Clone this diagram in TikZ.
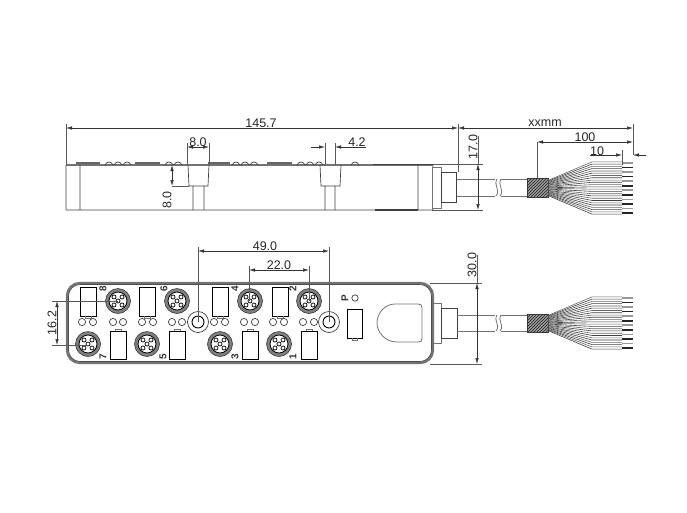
\documentclass[tikz,border=0pt]{standalone}
\usepackage{fontspec}
\setmainfont{Liberation Sans}
\usetikzlibrary{arrows.meta,patterns}

\tikzset{
  part/.style={draw=black!75, line width=0.7pt},
  soft/.style={draw=black!55, line width=0.8pt},
  band/.style={draw=black!60, line width=2.4pt},
  dimtip/.tip={Latex[length=6pt,width=3.4pt]},
  dimline/.style={draw=black!80, line width=0.5pt, dimtip-dimtip},
  extline/.style={draw=black!65, line width=0.5pt},
  dimtext/.style={inner sep=0pt, text=black!85, font=\fontsize{12.5}{14}\selectfont},
  portno/.style={inner sep=0pt, rotate=90, text=black!80, font=\fontsize{10}{10}\bfseries\selectfont},
}

% fan of wires, #1 = centre height
\newcommand{\wirefan}[1]{
  \foreach \i in {0,...,11} {
    \pgfmathsetmacro{\ya}{#1+(\i-5.5)*1.3}
    \pgfmathsetmacro{\yb}{#1+(\i-5.5)*4.55}
    \draw[black!60, line width=0.6pt] (548,\ya-0.4) -- (592,\yb-1.1) -- (622,\yb-1.1);
    \draw[black!75, line width=0.6pt] (548,\ya+0.4) -- (592,\yb+1.1) -- (622,\yb+1.1);
    \pgfmathtruncatemacro{\dark}{mod(\i,2)==0 ? 40 : 85}
    \draw[black!\dark, line width=1.6pt] (622,\yb) -- (633,\yb);
  }
}

% cable with the break and the braid, #1 = top edge, #2 = bottom edge
\newcommand{\cablerun}[2]{
  \draw[soft] (457,#1) -- (527,#1) (457,#2) -- (527,#2);
  \fill[white] (495,#1-1) rectangle (501,#2+1);
  \draw[soft] (497,#1) .. controls (493,#1+6) and (501,#2-6) .. (496,#2);
  \draw[soft] (501,#1) .. controls (497,#1+6) and (505,#2-6) .. (500,#2);
  \filldraw[draw=black!75, fill=black!40, line width=0.5pt] (527,#1-1) rectangle (548,#2+1);
  \fill[pattern=north east lines, pattern color=black!85] (527,#1-1) rectangle (548,#2+1);
}

\begin{document}
\begin{tikzpicture}[x=1pt, y=-1pt]
  \useasboundingbox (0,0) rectangle (687,512);

  % side view
  \coordinate (SL) at (66,165);
  \coordinate (SB) at (66,210);
  \coordinate (SR) at (458,172);
  \coordinate (SE) at (633,124);
  \coordinate (CT) at (432,165);
  \coordinate (CB) at (432,210);
  \draw[soft, line width=1.2pt] (SL) -- (CT);
  \draw[part] (CT) .. controls (433,165) .. (433,167)
  (SB) -- (CB) .. controls (433,210) .. (433,208)
  (SL) -- (SB)
  (80,165) -- (80,210)
  (418,165) -- (418,210);
  \draw[part, line width=1.1pt] (373,164.5) -- (432,164.5) (375,210) -- (418,210);
  \draw[soft] (432,167) -- (441,167) -- (441,208) -- (432,208) -- cycle;
  \draw[part] (441,172) -- (456,172) -- (456,202) -- (441,202) -- cycle;
  \foreach \xa/\xb in {76/100,135/160,208/230,267/292} {
    \draw[band] (\xa,163) -- (\xb,163);
  }
  \foreach \xa in {105,114,123,165,174,232,241,250,297,306,315,351} {
    \draw[part] (\xa,165) .. controls (\xa+2,161) and (\xa+6,161) .. (\xa+8,165);
  }
  % slots
  \draw[part] (188,165) -- (189,186) -- (208,186) -- (209,165)
  (193,186) -- (193,210) (204,186) -- (204,210);
  \draw[part] (320,165) -- (321,186) -- (340,186) -- (341,165)
  (325,186) -- (325,210) (335,186) -- (335,210);
  \cablerun{179}{196}
  \wirefan{188}

  % top view
  \draw[black!55, line width=2.4pt, rounded corners=13pt] (67,283) rectangle (433,363);
  \draw[black!70, line width=0.7pt, rounded corners=11.5pt] (68.5,284.5) rectangle (431.5,361.5);
  \draw[soft] (433,303) -- (441,303) -- (441,343) -- (433,343);
  \draw[part] (441,308) -- (457,308) -- (457,338) -- (441,338) -- cycle;
  \cablerun{315}{331}
  \wirefan{323}

  \foreach \x/\y in {118/301,177/301,250/301,309/301,88/344,147/344,220/344,279/344} {
    \filldraw[fill=black!50, draw=black!85, line width=0.5pt] (\x,\y) circle (12.5);
    \filldraw[fill=white, draw=black, line width=0.8pt] (\x,\y) circle (9);
    \foreach \dx/\dy in {-4/-4,4/-4,0/0,-4/4,4/4} {
      \draw[black, line width=0.7pt] (\x+\dx,\y+\dy) circle (2);
    }
  }
  \foreach \x in {80,139,212,272} {
    \draw[black, line width=0.7pt] (\x,287) rectangle (\x+16,316);
    \draw[soft] (\x+5,316) -- (\x+5,318) -- (\x+11,318) -- (\x+11,316);
  }
  \foreach \x in {110,169,242,301} {
    \draw[black, line width=0.7pt] (\x,331) rectangle (\x+16,359);
    \draw[soft] (\x+5,331) -- (\x+5,329) -- (\x+11,329) -- (\x+11,331);
  }
  \foreach \x in {82,93,113,123,142,153,172,182,214,225,244,255,273,284,303,314} {
    \draw[part] (\x,322) circle (3.6);
  }
  \foreach \x in {198,329} {
    \draw[part] (\x,322) circle (10.5);
    \draw[black, line width=0.9pt] (\x,322) circle (6);
  }
  \draw[black, line width=0.7pt] (347,309) rectangle (362,338);
  \draw[soft] (352,338) -- (352,340) -- (357,340) -- (357,338);
  \draw[part] (355,298) circle (3.2);
  \draw[soft] (395,304) -- (418,304) .. controls (421,304) and (422,305) .. (422,308)
  -- (422,338) .. controls (422,341) and (421,342) .. (418,342) -- (397,342)
  .. controls (385,342) and (377,332) .. (377,323) .. controls (377,313) and (385,304) .. (395,304) -- cycle;

  \node[portno] (no8) at (103,289) {8};
  \node[portno] (no6) at (164,289) {6};
  \node[portno] (no4) at (235,289) {4};
  \node[portno] (no2) at (293,289) {2};
  \node[portno] (no7) at (103,357) {7};
  \node[portno] (no5) at (163,357) {5};
  \node[portno] (no3) at (235,357) {3};
  \node[portno] (no1) at (293,357) {1};
  \node[portno] (noP) at (345,298) {P};

  % dimensions above the side view
  \draw[extline] (66,124) -- (SL) (458,124) -- (SR) (SE) -- (633,155)
  (537,142) -- (537,178) (622,150) -- (622,165)
  (187,143) -- (187,165) (209,143) -- (209,165)
  (325,143) -- (325,165) (335,143) -- (335,165)
  (172,186) -- (189,186);
  \coordinate (D1) at (66,128);
  \coordinate (D2) at (458,128);
  \coordinate (D3) at (633,128);
  \draw[dimline] (D1) -- (D2);
  \draw[dimline] (D2) -- (D3);
  \draw[dimline] (537,142) -- (633,142);
  \draw[dimline] (187,147) -- (209,147);
  \draw[draw=black!80, line width=0.5pt, -dimtip] (311,147) -- (325,147);
  \draw[draw=black!80, line width=0.5pt, dimtip-] (335,147) -- (366,147);
  \draw[draw=black!80, line width=0.5pt, -dimtip] (590,155) -- (622,155);
  \draw[draw=black!80, line width=0.5pt, dimtip-] (633,155) -- (646,155);
  \draw[dimline] (172,165) -- (172,186);
  \draw[extline] (432,164) -- (483,164) (432,210) -- (483,210);
  \draw[dimline] (478,164) -- (478,210);
  \draw[extline] (478,136) -- (478,164);

  \node[dimtext] (tA) at (261,123) {145.7};
  \node[dimtext] (tB) at (545,123) {xxmm};
  \node[dimtext] (tC) at (585,137) {100};
  \node[dimtext] (tD) at (597,151) {10};
  \node[dimtext] (tE) at (198,142) {8.0};
  \node[dimtext] (tF) at (357,142) {4.2};
  \node[dimtext, rotate=90] (tG) at (167,200) {8.0};
  \node[dimtext, rotate=90] (tH) at (473,147) {17.0};

  % dimensions round the top view
  \draw[extline] (198,247) -- (198,322) (329,247) -- (329,322)
  (249,266) -- (249,301) (309,266) -- (309,301)
  (52,301) -- (118,301) (52,345) -- (88,345)
  (430,283) -- (482,283) (430,364) -- (482,364);
  \draw[dimline] (198,251) -- (329,251);
  \draw[dimline] (249,270) -- (309,270);
  \draw[dimline] (57,301) -- (57,345);
  \draw[dimline] (477,283) -- (477,364);
  \draw[extline] (477,255) -- (477,283);
  \node[dimtext] (tI) at (265,246) {49.0};
  \node[dimtext] (tJ) at (279,265) {22.0};
  \node[dimtext, rotate=90] (tK) at (52,323) {16.2};
  \node[dimtext, rotate=90] (tL) at (472,265) {30.0};
\end{tikzpicture}
\end{document}
